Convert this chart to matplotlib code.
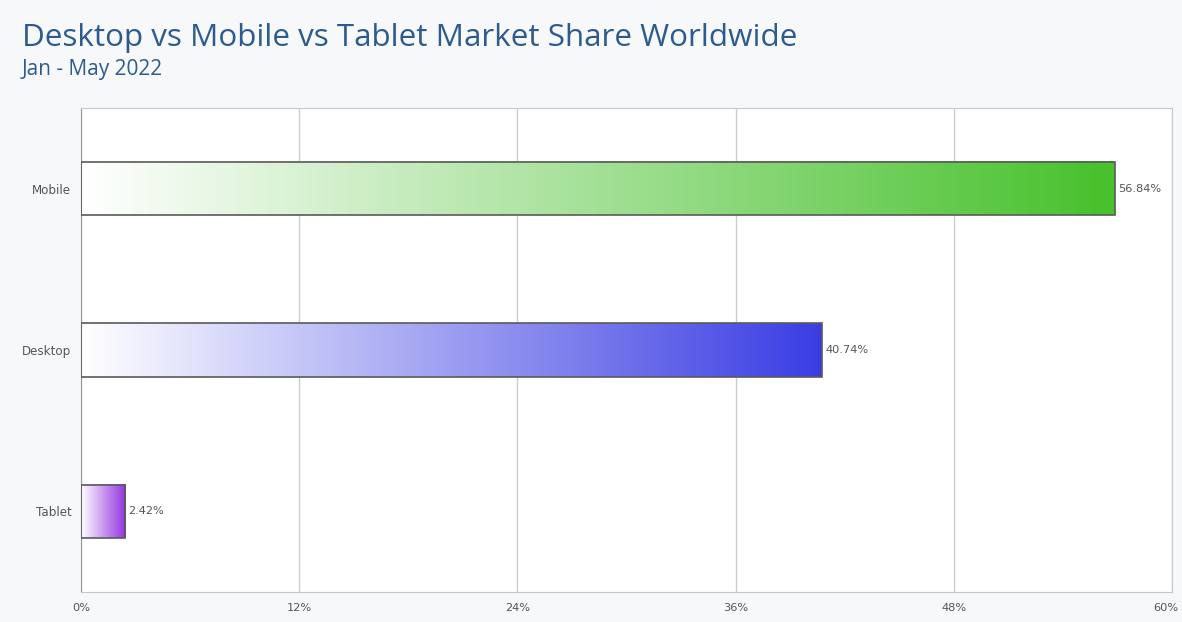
import numpy as np
import matplotlib.pyplot as plt
import matplotlib.transforms as mtransforms
from matplotlib.colors import LinearSegmentedColormap

plt.rcParams['font.family'] = ['Open Sans', 'DejaVu Sans']

platforms = ["Mobile", "Desktop", "Tablet"]
shares = [56.84, 40.74, 2.42]
end_colors = ["#47c12c", "#3a3de3", "#9333e0"]
xticks = [0, 12, 24, 36, 48, 60]

fig = plt.figure(figsize=(11.82, 6.22), dpi=100, facecolor="#f7f8fa")
ax = fig.add_axes([81 / 1182, 30 / 622, 1091 / 1182, 484 / 622])
ax.set_facecolor("white")

ypos = np.arange(len(platforms))[::-1]
h = 0.33
small = dict(family="DejaVu Sans", color="#555555")

grad = np.linspace(0, 1, 256).reshape(1, -1)
for y, v, c in zip(ypos, shares, end_colors):
    cmap = LinearSegmentedColormap.from_list("g", ["#ffffff", c])
    ax.imshow(grad, cmap=cmap, aspect="auto", extent=(0, v, y - h / 2, y + h / 2),
              zorder=2, interpolation="bicubic")
    ax.barh(y, v, height=h, color="none", edgecolor="#5a5a5a", linewidth=1.2, zorder=3)
    ax.text(v + 0.2, y, f"{v:.2f}%", va="center", ha="left",
            fontsize=8.2, zorder=4, **small)

ax.set_xlim(0, 60)
ax.set_ylim(-0.5, 2.5)
ax.set_xticks(xticks)
ax.set_xticklabels([f"{t}%" for t in xticks], fontsize=8.2, **small)
ax.set_yticks(ypos)
ax.set_yticklabels(platforms, fontsize=8.6, **small)
ax.tick_params(axis="y", length=0, pad=7)
ax.tick_params(axis="x", length=0, pad=8)
ax.grid(axis="x", color="#cccccc", linewidth=1, zorder=0)
for s in ax.spines.values():
    s.set_color("#c8c8c8")
ax.spines["left"].set_color("#999999")

# keep the last tick label inside the figure edge
last = ax.get_xticklabels()[-1]
last.set_transform(last.get_transform() +
                   mtransforms.ScaledTranslation(-6 / 100, 0, fig.dpi_scale_trans))

fig.text(22 / 1182, 1 - 38 / 622, "Desktop vs Mobile vs Tablet Market Share Worldwide",
         fontsize=22.6, color="#2d5b8e", va="center", ha="left")
fig.text(22 / 1182, 1 - 70 / 622, "Jan - May 2022",
         fontsize=15, color="#2d5b8e", va="center", ha="left")

fig.savefig("out.png", dpi=100, facecolor=fig.get_facecolor())
